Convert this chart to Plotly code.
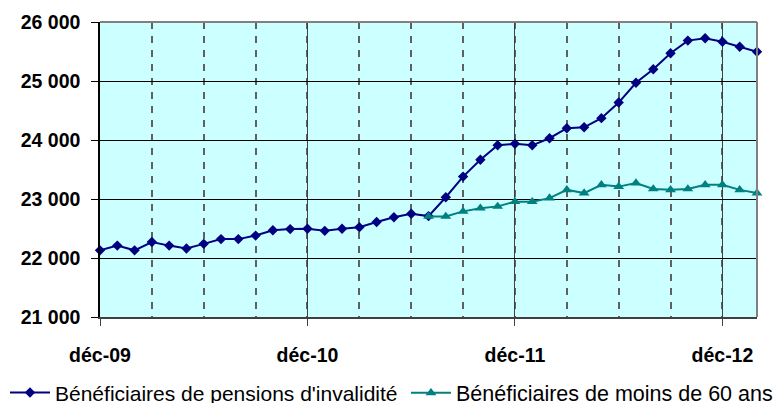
import plotly.graph_objects as go

# Monthly categories, December 2009 to February 2013
month_names = ["janv", "févr", "mars", "avr", "mai", "juin",
               "juil", "août", "sept", "oct", "nov", "déc"]
months = ["déc-09"] + [f"{m}-{y:02d}" for y in (10, 11, 12) for m in month_names] \
         + ["janv-13", "févr-13"]

# Disability pension beneficiaries (all ages)
invalidite = [22130, 22210, 22130, 22270, 22210, 22160, 22240, 22320, 22320,
              22380, 22470, 22490, 22495, 22460, 22495, 22520, 22610, 22690,
              22750, 22710, 23030, 23380, 23665, 23910, 23935, 23910, 24030,
              24200, 24215, 24370, 24635, 24970, 25200, 25470, 25685, 25725,
              25665, 25580, 25495]

# Beneficiaries under 60, series starting in July 2011
moins60_start = "juil-11"
moins60 = [22705, 22705, 22790, 22845, 22875, 22955, 22955, 23015, 23155,
           23100, 23240, 23210, 23270, 23170, 23155, 23170, 23240, 23240,
           23155, 23100]

y_ticks = [21000, 22000, 23000, 24000, 25000, 26000]

x_all = list(range(len(months)))
i0 = months.index(moins60_start)
x_60 = x_all[i0:i0 + len(moins60)]
major = [i for i, m in enumerate(months) if m.startswith("déc")]

NAVY = "#000080"
TEAL = "#008080"
FONT = "Liberation Sans, Arial, sans-serif"

fig = go.Figure()
fig.add_trace(go.Scatter(
    x=x_all, y=invalidite, mode="lines+markers",
    name="Bénéficiaires de pensions d'invalidité",
    line=dict(color=NAVY, width=2),
    marker=dict(symbol="diamond", size=8, color=NAVY),
    cliponaxis=False, legend="legend",
))
fig.add_trace(go.Scatter(
    x=x_60, y=moins60, mode="lines+markers",
    name="Bénéficiaires de moins de 60 ans",
    line=dict(color=TEAL, width=2),
    marker=dict(symbol="triangle-up", size=9.5, color=TEAL),
    cliponaxis=False, legend="legend2",
))

legend_common = dict(
    orientation="h", xref="paper", yref="paper",
    y=-0.257, xanchor="left", yanchor="middle",
    itemwidth=40, tracegroupgap=0, bgcolor="rgba(0,0,0,0)",
)

fig.update_layout(
    width=780, height=403,
    margin=dict(l=100, r=23, t=22, b=86, autoexpand=False),
    paper_bgcolor="white",
    plot_bgcolor="#CCFFFF",
    separators=", ",
    font=dict(family=FONT, color="black"),
    showlegend=True,
    legend=dict(x=-0.1446, font=dict(family=FONT, size=21, color="black"),
                **legend_common),
    legend2=dict(x=0.4657, font=dict(family=FONT, size=21.5, color="black"),
                 **legend_common),
)

fig.update_xaxes(
    range=[0, len(months) - 1],
    tickmode="array", tickvals=major, ticktext=[months[i] for i in major],
    ticks="outside", ticklen=7, tickcolor="#404040", tickwidth=1,
    tickfont=dict(family=FONT, size=19.5, color="black", weight="bold"),
    ticklabelstandoff=13,
    showgrid=True, gridcolor="#404040", gridwidth=1,
    showline=True, linecolor="#404040", linewidth=2,
    zeroline=False,
    minor=dict(tick0=0, dtick=3, showgrid=True, gridcolor="#606060",
               gridwidth=1.5, griddash="7px,7px", ticks=""),
)
fig.update_yaxes(
    range=[21000, 26000],
    tickmode="array", tickvals=y_ticks, tickformat=",d",
    ticks="outside", ticklen=7, tickcolor="black", tickwidth=1,
    tickfont=dict(family=FONT, size=19.5, color="black", weight="bold"),
    ticklabelstandoff=7,
    showgrid=True, gridcolor="black", gridwidth=1,
    showline=True, linecolor="black", linewidth=1.5,
    zeroline=False,
)

# Gray frame on the top and right edges of the plotting area
fig.add_shape(type="line", xref="paper", yref="paper", x0=0, x1=1, y0=1, y1=1,
              line=dict(color="#808080", width=2), layer="above")
fig.add_shape(type="line", xref="paper", yref="paper", x0=1, x1=1, y0=0, y1=1,
              line=dict(color="#808080", width=2), layer="above")

fig.write_html("out.html")
